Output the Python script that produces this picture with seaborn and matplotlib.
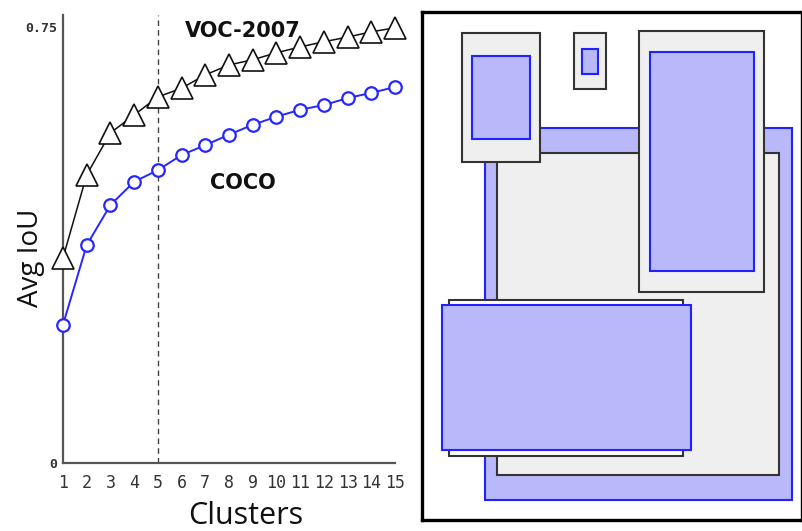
import numpy as np
import pandas as pd
import seaborn as sns
import matplotlib
matplotlib.use("Agg")
import matplotlib.pyplot as plt
from matplotlib.patches import Rectangle

# Average IoU of k-means anchor priors versus number of clusters
clusters = list(range(1, 16))
voc_iou = [0.353, 0.496, 0.568, 0.599, 0.630, 0.645, 0.668, 0.685,
           0.694, 0.706, 0.716, 0.725, 0.733, 0.742, 0.749]
coco_iou = [0.238, 0.375, 0.444, 0.484, 0.504, 0.530, 0.547, 0.565,
            0.582, 0.596, 0.608, 0.616, 0.628, 0.637, 0.647]
chosen_k = 5
y_ticks = [0, 0.75]
y_tick_labels = ["0", "0.75"]

# Anchor shapes: (x0, y0, x1, y1) in panel units, paired ground-truth
# cluster box (grey) and prior (blue), back to front
big_gray = (497, 153, 779, 475)
big_blue = (485, 128, 792, 500)
wide_gray = (449, 300, 683, 456)
wide_blue = (442, 305, 691, 450)
tl_gray = (462, 33, 540, 162)
tl_blue = (472, 56, 530, 139)
small_gray = (574, 33, 606, 89)
small_blue = (582, 49, 598, 74)
tall_gray = (639, 31, 764, 292)
tall_blue = (650, 52, 754, 271)

sns.set_theme(style="white")
plt.rcParams["font.family"] = ["DejaVu Sans"]

W, H = 803, 531
fig = plt.figure(figsize=(W / 100, H / 100), dpi=100)
fig.patch.set_facecolor("white")

# ---- left: IoU curves ----
ax = fig.add_axes([63 / W, (H - 463) / H, (395 - 63) / W, (463 - 15) / H])
df = pd.DataFrame({"k": clusters * 2,
                   "iou": voc_iou + coco_iou,
                   "set": ["VOC-2007"] * 15 + ["COCO"] * 15})

ax.axvline(chosen_k, color="#444444", lw=1.0, ls=(0, (4, 3)), zorder=1)
sns.lineplot(data=df[df["set"] == "VOC-2007"], x="k", y="iou", ax=ax,
             color="#111111", lw=1.1, marker="^", markersize=15.5,
             markerfacecolor="white", markeredgecolor="#111111",
             markeredgewidth=1.2, zorder=3)
sns.lineplot(data=df[df["set"] == "COCO"], x="k", y="iou", ax=ax,
             color="#2626ff", lw=1.4, marker="o", markersize=9,
             markerfacecolor="white", markeredgecolor="#2626ff",
             markeredgewidth=1.6, zorder=3)
for ln in ax.lines:
    ln.set_clip_on(False)

ax.set_xlim(1, 15)
ax.set_ylim(0, 0.771)
ax.set_xticks(clusters)
ax.set_xticklabels([str(c) for c in clusters], family="DejaVu Sans Mono",
                   fontsize=12, color="#333333")
ax.set_yticks(y_ticks)
ax.set_yticklabels(y_tick_labels, family="DejaVu Sans Mono", fontsize=9.5,
                   color="#333333", fontweight="bold")
ax.tick_params(axis="both", length=0, pad=4)
ax.tick_params(axis="x", pad=8)
ax.set_xlabel("")
ax.set_ylabel("")
for s in ["top", "right"]:
    ax.spines[s].set_visible(False)
for s in ["left", "bottom"]:
    ax.spines[s].set_color("#555555")
    ax.spines[s].set_linewidth(1.6)
ax.set_facecolor("white")

ax.text(8.6, 0.744, "VOC-2007", fontsize=15, fontweight="bold",
        ha="center", va="center", color="#111111")
ax.text(8.6, 0.482, "COCO", fontsize=15, fontweight="bold",
        ha="center", va="center", color="#111111")

fig.text(246 / W, 1 - 516 / H, "Clusters", fontsize=22, family="Open Sans",
         ha="center", va="center", color="#111111")
fig.text(31 / W, 1 - 258 / H, "Avg IoU", fontsize=20, family="Open Sans",
         rotation=90, ha="center", va="center", color="#111111")

# ---- right: anchor box shapes ----
ax2 = fig.add_axes([422 / W, (H - 520) / H, (802 - 422) / W, (520 - 12) / H])
ax2.set_xlim(422, 802)
ax2.set_ylim(520, 12)
ax2.set_xticks([])
ax2.set_yticks([])
for s in ax2.spines.values():
    s.set_color("black")
    s.set_linewidth(2.4)

gray_fc, gray_ec = "#efefef", "#333333"
blue_fc, blue_ec = "#b8b8fb", "#2222ff"
boxes = [
    (big_blue, blue_fc, blue_ec),
    (big_gray, gray_fc, gray_ec),
    (wide_gray, "white", gray_ec),
    (wide_blue, blue_fc, blue_ec),
    (tl_gray, gray_fc, gray_ec),
    (tl_blue, blue_fc, blue_ec),
    (small_gray, gray_fc, gray_ec),
    (small_blue, blue_fc, blue_ec),
    (tall_gray, gray_fc, gray_ec),
    (tall_blue, blue_fc, blue_ec),
]
for (x0, y0, x1, y1), fc, ec in boxes:
    ax2.add_patch(Rectangle((x0, y0), x1 - x0, y1 - y0, facecolor=fc,
                            edgecolor=ec, lw=1.5))

fig.savefig("out.png", dpi=100, facecolor="white")
